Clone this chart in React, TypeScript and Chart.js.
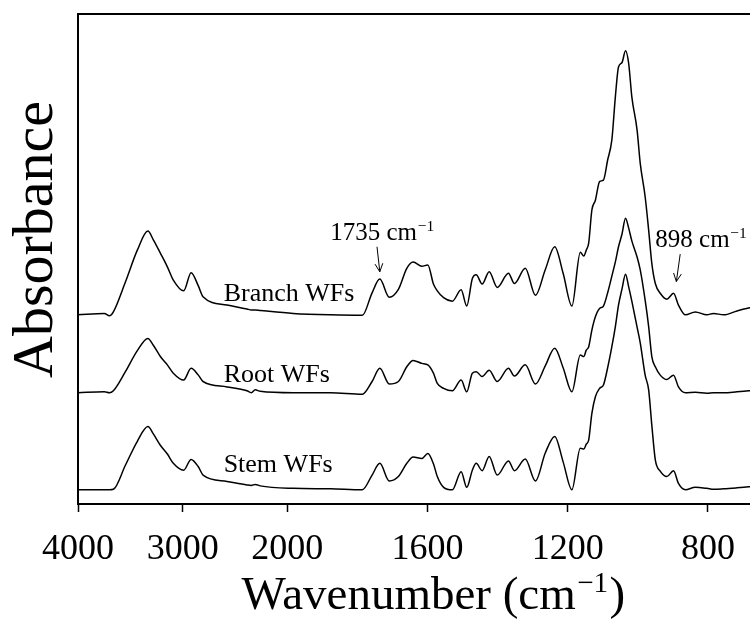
import React, { useEffect, useRef } from "react";
import { Chart, registerables } from "chart.js";

Chart.register(...registerables);

// Wavenumber grid (cm-1) shared by the three spectra
const wavenumbers: number[] = [4000, 3748, 3700, 3662, 3547, 3433, 3332, 3280, 3213, 3146, 3089, 2990, 2919, 2850, 2805, 2576, 2385, 2344, 2306, 2258, 1983, 1877, 1786, 1758, 1736, 1709, 1683, 1659, 1641, 1616, 1599, 1583, 1572, 1554, 1529, 1504, 1488, 1472, 1461, 1444, 1424, 1401, 1369, 1352, 1321, 1292, 1264, 1237, 1213, 1188, 1164, 1154, 1147, 1140, 1131, 1121, 1109, 1098, 1086, 1074, 1064, 1055, 1045, 1035, 1026, 1017, 1002, 993, 979, 969, 960, 950, 936, 917, 898, 884, 864, 836, 803, 784, 755, 717, 684, 650, 600];

// Stacked absorbance (a.u., offset traces)
const branchWFs: number[] = [38.6, 38.9, 38.4, 39.2, 45.3, 51.8, 55.7, 53.9, 51.2, 48.4, 45.7, 43.5, 47.2, 44.5, 42.3, 40.6, 39.8, 39.6, 39.6, 39.5, 38.9, 38.6, 38.5, 43.1, 45.9, 42.2, 43.8, 48.1, 49.4, 48.5, 48.8, 44.9, 43.5, 42.1, 41.4, 43.7, 40.4, 46.0, 46.8, 44.9, 47.4, 44.2, 47.1, 45.0, 48.1, 42.6, 47.8, 52.5, 47.1, 40.4, 51.4, 50.6, 51.8, 53.3, 60.0, 62.0, 65.8, 66.1, 70.2, 74.3, 83.1, 89.2, 90.1, 92.5, 89.9, 83.1, 76.3, 69.5, 62.7, 55.9, 49.1, 45.0, 43.0, 41.8, 43.0, 40.6, 38.6, 39.2, 38.6, 38.9, 38.6, 39.4, 40.0, 40.4, 40.6];
const rootWFs: number[] = [22.7, 22.9, 22.7, 23.1, 27.0, 31.3, 33.8, 32.4, 30.1, 28.4, 26.7, 25.3, 27.7, 26.3, 25.0, 23.9, 23.1, 22.7, 23.3, 23.0, 22.7, 22.7, 22.4, 25.0, 27.7, 24.5, 25.0, 28.0, 29.3, 28.7, 28.4, 26.7, 24.6, 23.6, 23.1, 25.3, 22.9, 26.7, 27.0, 26.0, 27.3, 25.0, 27.7, 26.1, 28.4, 24.5, 28.2, 31.8, 27.8, 22.9, 30.4, 30.1, 31.4, 32.1, 35.5, 38.2, 39.9, 40.4, 43.1, 46.5, 49.4, 52.5, 55.1, 58.3, 56.3, 53.7, 50.4, 47.8, 41.6, 36.2, 30.1, 28.0, 26.3, 25.4, 26.3, 23.9, 22.7, 22.8, 22.6, 22.7, 22.7, 22.9, 23.1, 23.3, 23.5];
const stemWFs: number[] = [2.9, 2.9, 2.9, 3.0, 7.9, 12.8, 15.8, 14.3, 12.0, 10.2, 8.3, 6.9, 9.1, 7.6, 5.9, 4.6, 3.9, 3.8, 4.0, 3.7, 3.2, 3.1, 2.9, 5.9, 8.3, 4.7, 5.6, 8.3, 9.6, 9.3, 10.3, 8.2, 5.6, 3.4, 2.9, 6.6, 3.4, 6.9, 8.3, 6.8, 9.7, 5.9, 8.8, 6.8, 9.2, 4.7, 10.4, 13.8, 8.6, 2.9, 11.4, 11.2, 12.2, 13.1, 18.5, 21.9, 23.6, 24.3, 27.8, 32.1, 36.2, 40.6, 43.9, 46.9, 44.3, 41.4, 36.1, 32.9, 26.3, 23.3, 16.1, 9.0, 6.7, 5.6, 6.8, 4.2, 2.9, 3.4, 3.2, 3.0, 3.1, 3.3, 3.5, 3.7, 3.9];

// Axis ticks
const tickWavenumbers: number[] = [4000, 3000, 2000, 1600, 1200, 800];
const tickLabels: string[] = ["4000", "3000", "2000", "1600", "1200", "800"];

// Axis titles
const xTitle = "Wavenumber (cm";
const xTitleSup = "\u22121";
const xTitleTail = ")";
const yTitle = "Absorbance";

// Trace labels
const seriesNames: string[] = ["Branch WFs", "Root WFs", "Stem WFs"];
const seriesLabelWavenumber = 2608;
const seriesLabelLevels: number[] = [41.5, 25.0, 6.6];

// Peak annotations
const peakTexts: string[] = ["1735", "898"];
const peakTextWavenumbers: number[] = [1730, 950];
const peakTextAlign: string[] = ["center", "left"];
const peakTextLevels: number[] = [53.9, 52.5];
const arrowFromWavenumbers: number[] = [1744, 879];
const arrowFromLevels: number[] = [52.5, 51.0];
const arrowToWavenumbers: number[] = [1736, 890];
const arrowToLevels: number[] = [47.4, 45.4];

// Split wavenumber axis: 4000-2000 compressed, 2000-600 expanded
const BREAK_WN = 2000;
const LOW_STRETCH = 1.34;
function axisPos(wn: number): number {
  return wn >= BREAK_WN ? (4000 - wn) / 1000 : 2 + ((BREAK_WN - wn) / 400) * LOW_STRETCH;
}

const SERIF = '"Liberation Serif", "Times New Roman", serif';

function drawWithSup(ctx: CanvasRenderingContext2D, base: string, sup: string, tail: string, x: number, y: number, size: number, align: string) {
  const supSize = size * 0.62;
  ctx.font = `${size}px ${SERIF}`;
  const wBase = ctx.measureText(base).width;
  const wTail = tail ? ctx.measureText(tail).width : 0;
  ctx.font = `${supSize}px ${SERIF}`;
  const wSup = ctx.measureText(sup).width;
  const total = wBase + wSup + wTail;
  let x0 = x;
  if (align === "center") x0 = x - total / 2;
  else if (align === "right") x0 = x - total;
  ctx.textAlign = "left";
  ctx.textBaseline = "alphabetic";
  ctx.font = `${size}px ${SERIF}`;
  ctx.fillText(base, x0, y);
  ctx.font = `${supSize}px ${SERIF}`;
  ctx.fillText(sup, x0 + wBase + size * 0.03, y - size * 0.36);
  ctx.font = `${size}px ${SERIF}`;
  if (tail) ctx.fillText(tail, x0 + wBase + wSup + size * 0.06, y);
}

const annotationPlugin = {
  id: "ftirAnnotations",
  afterDraw(chart: any) {
    const { ctx, chartArea, scales } = chart;
    const xs = scales.x;
    const ys = scales.y;
    ctx.save();
    // frame
    ctx.strokeStyle = "#000";
    ctx.lineWidth = 2;
    ctx.strokeRect(chartArea.left, chartArea.top, chartArea.right - chartArea.left, chartArea.bottom - chartArea.top);
    ctx.fillStyle = "#000";
    // series labels
    ctx.font = `26px ${SERIF}`;
    ctx.textAlign = "left";
    ctx.textBaseline = "alphabetic";
    seriesNames.forEach((name, i) => {
      ctx.fillText(name, xs.getPixelForValue(axisPos(seriesLabelWavenumber)), ys.getPixelForValue(seriesLabelLevels[i]));
    });
    // peak annotations
    peakTexts.forEach((t, i) => {
      drawWithSup(ctx, t + " cm", "\u22121", "", xs.getPixelForValue(axisPos(peakTextWavenumbers[i])), ys.getPixelForValue(peakTextLevels[i]), 25, peakTextAlign[i]);
      const x1 = xs.getPixelForValue(axisPos(arrowFromWavenumbers[i]));
      const y1 = ys.getPixelForValue(arrowFromLevels[i]);
      const x2 = xs.getPixelForValue(axisPos(arrowToWavenumbers[i]));
      const y2 = ys.getPixelForValue(arrowToLevels[i]);
      ctx.lineWidth = 1;
      ctx.beginPath();
      ctx.moveTo(x1, y1);
      ctx.lineTo(x2, y2);
      const ang = Math.atan2(y2 - y1, x2 - x1);
      const hl = 9;
      const ha = 0.45;
      ctx.moveTo(x2 - hl * Math.cos(ang - ha), y2 - hl * Math.sin(ang - ha));
      ctx.lineTo(x2, y2);
      ctx.lineTo(x2 - hl * Math.cos(ang + ha), y2 - hl * Math.sin(ang + ha));
      ctx.stroke();
    });
    // x axis title
    const cx = (chartArea.left + chartArea.right) / 2 + 4;
    drawWithSup(ctx, xTitle, xTitleSup, xTitleTail, cx, 609, 47, "center");
    // y axis title
    ctx.save();
    ctx.translate(52, ys.getPixelForValue(54));
    ctx.rotate(-Math.PI / 2);
    ctx.font = `58px ${SERIF}`;
    ctx.textAlign = "center";
    ctx.textBaseline = "alphabetic";
    ctx.fillText(yTitle, 0, 0);
    ctx.restore();
    ctx.restore();
  },
};

export default function App() {
  const canvasRef = useRef<HTMLCanvasElement | null>(null);

  useEffect(() => {
    const canvas = canvasRef.current;
    if (!canvas) return;
    const mk = (vals: number[]) => wavenumbers.map((w, i) => ({ x: axisPos(w), y: vals[i] }));
    const lineStyle = {
      borderColor: "#000",
      borderWidth: 1.5,
      pointRadius: 0,
      fill: false,
      cubicInterpolationMode: "monotone" as const,
    };
    const chart = new Chart(canvas, {
      type: "line",
      data: {
        datasets: [
          { label: seriesNames[0], data: mk(branchWFs), ...lineStyle },
          { label: seriesNames[1], data: mk(rootWFs), ...lineStyle },
          { label: seriesNames[2], data: mk(stemWFs), ...lineStyle },
        ],
      },
      options: {
        responsive: false,
        animation: false,
        devicePixelRatio: 1,
        layout: { padding: { top: 14, right: 22, left: 0, bottom: 0 } },
        plugins: { legend: { display: false }, tooltip: { enabled: false }, title: { display: false } },
        scales: {
          x: {
            type: "linear",
            min: 0,
            max: axisPos(600),
            afterFit: (s: any) => {
              s.height = 119;
            },
            afterBuildTicks: (s: any) => {
              s.ticks = tickWavenumbers.map((w) => ({ value: axisPos(w) }));
            },
            ticks: {
              callback: (_v: any, i: number) => tickLabels[i],
              font: { family: SERIF, size: 36 },
              color: "#000",
              padding: 16,
              maxRotation: 0,
              autoSkip: false,
            },
            grid: { drawOnChartArea: false, drawTicks: true, tickLength: 8, tickColor: "#000", tickWidth: 1.5 },
            border: { display: false },
          },
          y: {
            min: 0,
            max: 100,
            afterFit: (s: any) => {
              s.width = 78;
            },
            ticks: { display: false },
            grid: { drawOnChartArea: false, drawTicks: false },
            border: { display: false },
            title: { display: false },
          },
        },
      } as any,
      plugins: [annotationPlugin],
    });
    return () => chart.destroy();
  }, []);

  return (
    <div style={{ position: "fixed", left: 0, top: 0, width: 750, height: 623, overflow: "hidden", background: "#fff" }}>
      <canvas ref={canvasRef} width={800} height={623} style={{ display: "block", width: 800, height: 623 }} />
    </div>
  );
}
